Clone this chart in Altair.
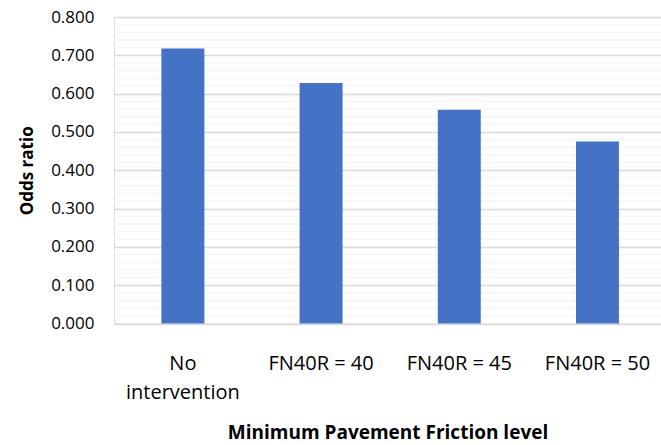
import altair as alt
import pandas as pd

# Odds ratio by minimum pavement friction level
categories = ["No\nintervention", "FN40R = 40", "FN40R = 45", "FN40R = 50"]
odds_ratio = [0.718, 0.628, 0.558, 0.475]

major_ticks = [0.0, 0.1, 0.2, 0.3, 0.4, 0.5, 0.6, 0.7, 0.8]
minor_ticks = [round(i * 0.02, 2) for i in range(41) if i % 5 != 0]

bars_df = pd.DataFrame({"level": categories, "odds": odds_ratio})
minor_df = pd.DataFrame({"v": minor_ticks})

FONT = "Open Sans"
y_scale = alt.Scale(domain=[0, 0.8], nice=False, zero=True)

y_axis = alt.Axis(
    values=major_ticks,
    format=".3f",
    labelFont=FONT,
    labelFontSize=17,
    labelColor="#000000",
    labelPadding=20,
    ticks=False,
    domain=False,
    grid=True,
    gridColor="#d9d9d9",
    gridWidth=1.3,
    titleFont=FONT,
    titleFontSize=17,
    titleFontWeight="bold",
    titleColor="#000000",
    titlePadding=14,
)

minor_grid = alt.Chart(minor_df).mark_rule(color="#f2f2f2", strokeWidth=1).encode(
    y=alt.Y("v:Q", scale=y_scale, axis=y_axis, title="Odds ratio")
)

bars = alt.Chart(bars_df).mark_bar(color="#4472C4").encode(
    x=alt.X(
        "level:N",
        sort=categories,
        scale=alt.Scale(paddingInner=0.689, paddingOuter=0.3235, align=0.53),
        axis=alt.Axis(
            title="Minimum Pavement Friction level",
            labelExpr="split(datum.label, '\\n')",
            labelAngle=0,
            labelFont=FONT,
            labelFontSize=20,
            labelColor="#000000",
            labelBaseline="top",
            labelLineHeight=28.5,
            labelPadding=30,
            ticks=False,
            domain=False,
            titleFont=FONT,
            titleFontSize=19,
            titleFontWeight="bold",
            titleColor="#000000",
            titlePadding=21,
        ),
    ),
    y=alt.Y("odds:Q", scale=y_scale, axis=y_axis, title="Odds ratio"),
)

chart = (
    alt.layer(minor_grid, bars)
    .properties(
        width=547,
        height=306.6,
        padding={"left": 114, "top": 17, "right": 0, "bottom": 121.4},
        autosize="none",
    )
    .configure_view(stroke=None)
    .configure(background="white")
)

chart.save("out.html", embed_options={"renderer": "svg", "actions": False})
